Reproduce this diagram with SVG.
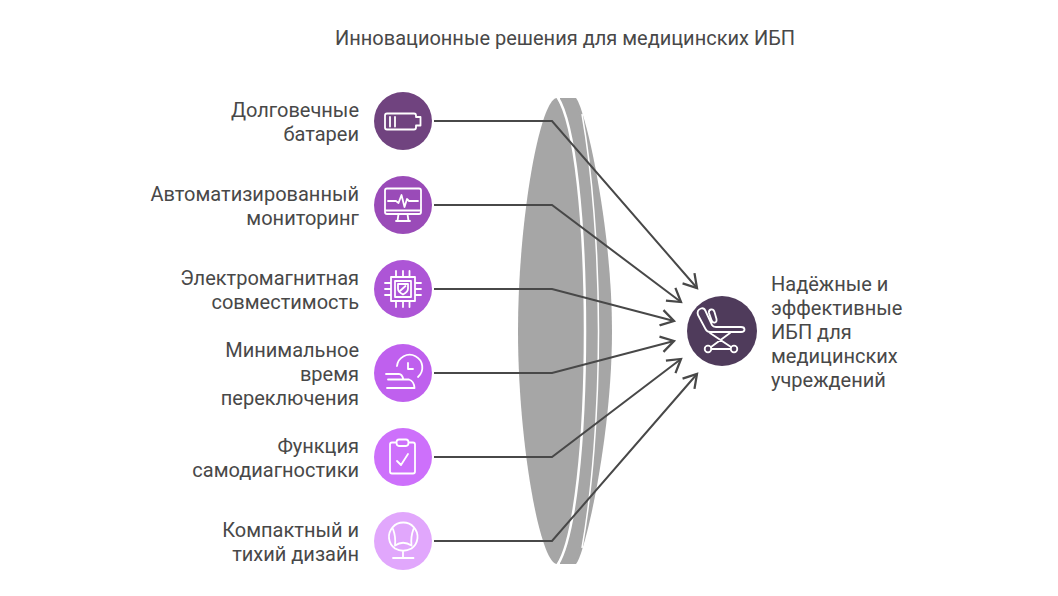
<svg xmlns="http://www.w3.org/2000/svg" width="1058" height="596" viewBox="0 0 1058 596">
<style>
text{font-family:Roboto,"Liberation Sans",sans-serif;font-size:20px;fill:#484848}
.r{text-anchor:end}
.lobe{fill:#a6a6a6}
.gap{fill:none;stroke:#fff}
.c{fill:none;stroke:#484848;stroke-width:2}
.i{fill:none;stroke:#fff;stroke-width:1.800;stroke-linecap:round;stroke-linejoin:round}
</style>
<defs>
<marker id="a" markerUnits="userSpaceOnUse" markerWidth="18" markerHeight="18" refX="13" refY="8" orient="auto" viewBox="0 0 16 16"><path d="M1.500 1L13 8L1.500 15" fill="none" stroke="#484848" stroke-width="2"/></marker>
</defs>
<rect width="1058" height="596" fill="#fff"/>
<text id="title" x="565" y="45" text-anchor="middle">Инновационные решения для медицинских ИБП</text>
<g id="shape">
<path class="lobe" d="M576 98C585 108 612 225 612 331C612 437 585 554 576 564H560V98Z"/>
<path class="lobe" d="M562 98H572C586 110 598 220 598 331C598 442 586 552 572 564H562Z"/>
<path class="gap" stroke-width="1.500" d="M582 114C592 170 598.500 250 598.500 331C598.500 412 592 492 582 548"/>
<path class="lobe" d="M557 98C540 98 518 220 518 331C518 442 540 564 557 564C574 538 584.500 440 584.500 331C584.500 222 574 124 557 98Z"/>
<path class="gap" stroke-width="2.500" d="M557.500 97C575 124 585 222 585 331C585 440 575 538 557.500 565"/>
</g>
<g id="connectors">
<path class="c" d="M434 121H552L697 288" marker-end="url(#a)"/>
<path class="c" d="M434 205H552L681 302" marker-end="url(#a)"/>
<path class="c" d="M434 289H552L674 321" marker-end="url(#a)"/>
<path class="c" d="M434 373H552L674 341" marker-end="url(#a)"/>
<path class="c" d="M434 457H552L681 359" marker-end="url(#a)"/>
<path class="c" d="M434 541H552L697 374" marker-end="url(#a)"/>
</g>
<g id="node1">
<circle cx="403" cy="121" r="29" fill="#70437f"/>
<path class="i" d="M387 113.500H414Q416 113.500 416 115.500V117H420.500V125.500H416V127.500Q416 129.500 414 129.500H387Q385 129.500 385 127.500V115.500Q385 113.500 387 113.500ZM390 117V126.500M395 117V126.500"/>
<text class="r" x="359" y="117">Долговечные</text><text class="r" x="359" y="141">батареи</text>
</g>
<g id="node2">
<circle cx="403" cy="205" r="29" fill="#9a4bb8"/>
<path class="i" d="M387 188.500H419Q421 188.500 421 190.500V212Q421 214 419 214H387Q385 214 385 212V190.500Q385 188.500 387 188.500ZM385 210.500H421M396 221H410M398.500 214L397.500 221M407.500 214L408.500 221M388 201H396L398.500 203L401.500 195L404.500 207L407 199L409 201H418"/>
<text class="r" x="359" y="201">Автоматизированный</text><text class="r" x="359" y="225">мониторинг</text>
</g>
<g id="node3">
<circle cx="403" cy="289" r="29" fill="#ad55d6"/>
<path class="i" d="M391 277H415V301H391ZM395 281H411V297H395ZM396 271V277M403 271V277M409.500 271V277M396 301V307M403 301V307M409.500 301V307M385 283H391M385 289H391M385 295H391M415 283H421M415 289H421M415 295H421M398 284H408V288.500Q408 292 403 294.500Q398 292 398 288.500ZM400.500 290.500L405.500 286"/>
<text class="r" x="359" y="285">Электромагнитная</text><text class="r" x="359" y="309">совместимость</text>
</g>
<g id="node4">
<circle cx="403" cy="373" r="29" fill="#bf60ee"/>
<path class="i" d="M397 366A12.700 12.700 0 1 1 418 377M408 363V369H413M386 374H399Q402 374 403.500 379.500H409Q414 381 414.500 388H387M388 379.500H403.500"/>
<text class="r" x="359" y="357">Минимальное</text><text class="r" x="359" y="381">время</text><text class="r" x="359" y="405">переключения</text>
</g>
<g id="node5">
<circle cx="403" cy="457" r="29" fill="#cd70fb"/>
<path class="i" d="M396.500 442.500H392Q390 442.500 390 444.500V471.500Q390 473.500 392 473.500H413Q415 473.500 415 471.500V444.500Q415 442.500 413 442.500H408.500M399 439.500H406Q408.500 439.500 408.500 442.500Q408.500 446 406 446H399Q396.500 446 396.500 442.500Q396.500 439.500 399 439.500ZM397 461L401 465L408 454"/>
<text class="r" x="359" y="453">Функция</text><text class="r" x="359" y="477">самодиагностики</text>
</g>
<g id="node6">
<circle cx="403" cy="541" r="29" fill="#e1a7fc"/>
<path class="i" d="M395 548.500A14.300 14.300 0 1 1 411.500 548.500Q403 553 395 548.500ZM393 529Q396 537 395 545.500M413.500 529Q410.500 537 411.500 545.500M395 545.500Q403 540 411.500 545.500M403 551V558M393 558H413.500"/>
<text class="r" x="359" y="537">Компактный и</text><text class="r" x="359" y="561">тихий дизайн</text>
</g>
<g id="node7">
<circle cx="722" cy="331" r="35" fill="#4f3b5b"/>
<path class="i" d="M698 315Q696.500 310 701 308.500Q704 307.500 705.500 311L712 325Q713 327 716 327H741Q744.500 327 744.500 329.500Q744.500 332 741 332H710Q707 332 705.500 329ZM709 313Q708.500 310 711 309.500Q713.500 309 714.500 312L716.500 319Q717 322 715 322.500Q712.500 323 711.500 320ZM710 333L731 347M730 333L711 347M711.500 349H730.500"/>
<circle class="i" cx="708" cy="349" r="3.300"/><circle class="i" cx="734" cy="349" r="3.300"/>
<text x="771" y="291">Надёжные и</text><text x="771" y="315">эффективные</text><text x="771" y="339">ИБП для</text><text x="771" y="363">медицинских</text><text x="771" y="387">учреждений</text>
</g>
</svg>
